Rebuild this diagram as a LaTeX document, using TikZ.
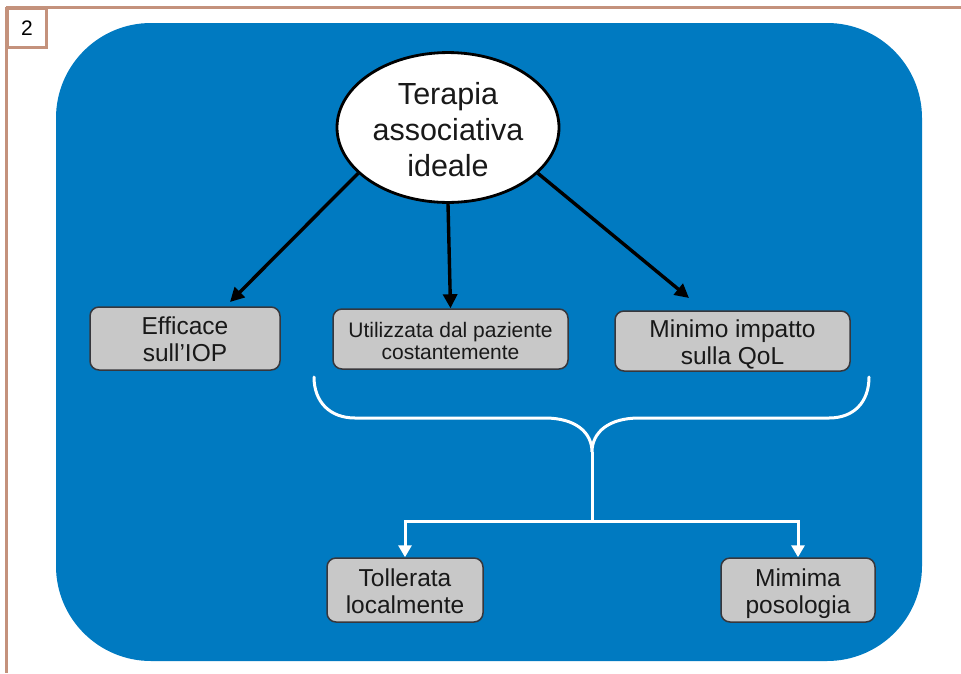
\documentclass[tikz,border=0pt]{standalone}
\usepackage{fontspec}
\setmainfont{Liberation Sans}
\usetikzlibrary{arrows.meta,shapes.geometric}
\definecolor{framebrown}{RGB}{196,146,124}
\definecolor{bgblue}{RGB}{0,122,193}
\definecolor{boxgray}{RGB}{200,200,200}
\definecolor{boxedge}{RGB}{55,55,60}
\definecolor{txt}{RGB}{25,25,25}
\newcommand\tp[1]{\rule{0pt}{#1pt}}
\newcommand\bt[1]{\rule[-#1pt]{0pt}{#1pt}}
\tikzset{
  graybox/.style={draw=boxedge, line width=1.5pt, fill=boxgray, rounded corners=9pt,
    align=center, text=txt, inner sep=0pt, font=\fontsize{24.5}{27}\selectfont},
  blackarrow/.style={draw=black, line width=3.4pt, -{Triangle[length=14pt,width=14pt]}},
  whitearrow/.style={draw=white, line width=3pt, -{Triangle[length=12pt,width=13pt]}},
  whiteline/.style={draw=white, line width=3pt},
}
\begin{document}
\begin{tikzpicture}[x=1pt,y=-1pt]
\useasboundingbox (0,0) rectangle (961,673);
% frame
\draw[framebrown, line width=3pt] (6,7) -- (961,7);
\draw[framebrown, line width=3pt] (6,7) -- (6,673);
\node[draw=framebrown, line width=3pt, fill=white, minimum width=39pt, minimum height=39pt, inner sep=0pt, anchor=north west, font=\fontsize{21}{22}\selectfont] (num) at (6,7) {2};
% blue background
\fill[bgblue, rounded corners=95pt] (56,23) rectangle (922,661);
% ellipse
\node[ellipse, draw=black, line width=2.8pt, fill=white, minimum width=222pt, minimum height=141pt, inner sep=0pt, align=center, text=txt, font=\fontsize{30.5}{36}\selectfont] (top) at (448,127.5) {\tp{30}Terapia\\associativa\\ideale\bt{4}};
% boxes
\node[graybox, minimum width=190pt, minimum height=63pt] (b1) at (185,338.5) {\tp{25}Efficace\\sull'IOP\bt{6}};
\node[graybox, minimum width=235pt, minimum height=60pt, font=\fontsize{21}{22}\selectfont] (b2) at (450.5,339) {\tp{22}Utilizzata dal paziente\\costantemente\bt{4}};
\node[graybox, minimum width=235pt, minimum height=60pt] (b3) at (732.5,341) {\tp{25}Minimo impatto\\sulla QoL\bt{6}};
\node[graybox, minimum width=156pt, minimum height=64pt] (b4) at (405,590) {\tp{25}Tollerata\\localmente\bt{6}};
\node[graybox, minimum width=154pt, minimum height=64pt] (b5) at (798,590) {\tp{25}Mimima\\posologia\bt{6}};
% black arrows
\draw[blackarrow] (top.207) -- (230,302) coordinate (e1);
\draw[blackarrow] (top.south) -- (b2.north);
\draw[blackarrow] (top.-27) -- (689,298) coordinate (e3);
% brace
\coordinate (bl) at (314,377);
\coordinate (br) at (869,377);
\coordinate (tip) at (592,452);
\coordinate (split) at (592,521);
\draw[whiteline, line cap=round] (bl) .. controls (314,402) and (330,418) .. (355,418)
  -- (545,418) .. controls (575,418) and (592,432) .. (tip)
  .. controls (592,432) and (609,418) .. (639,418)
  -- (829,418) .. controls (854,418) and (869,402) .. (br);
\draw[whiteline] (tip) -- (split);
\draw[whitearrow] (split) -| (b4.north);
\draw[whitearrow] (split) -| (b5.north);
\end{tikzpicture}
\end{document}
